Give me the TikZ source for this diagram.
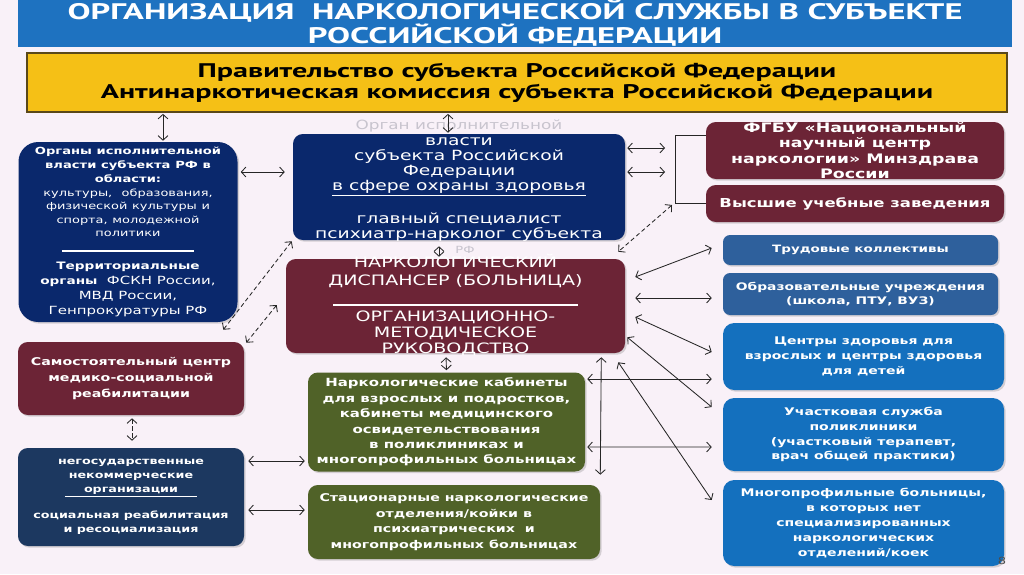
\documentclass[tikz,border=0pt]{standalone}
\usepackage{fontspec}
\setmainfont{DejaVu Sans}[FakeStretch=1.33]
\newfontfamily\titlefont{PT Sans}[FakeStretch=1.53]
\usepackage{tikz}
\usetikzlibrary{arrows,arrows.meta,calc,shadows}

\definecolor{pagebg}{RGB}{249,241,248}
\definecolor{titleblue}{RGB}{30,114,192}
\definecolor{govyellow}{RGB}{245,192,22}
\definecolor{govedge}{RGB}{90,72,25}
\definecolor{navy}{RGB}{10,40,108}
\definecolor{slate}{RGB}{28,56,96}
\definecolor{maroon}{RGB}{108,36,54}
\definecolor{olive}{RGB}{80,98,40}
\definecolor{steel}{RGB}{46,96,156}
\definecolor{brightblue}{RGB}{20,112,190}
\definecolor{ghostgray}{RGB}{200,196,206}

\def\pxl{0.025cm}

\tikzset{
	box/.style={rounded corners=7pt, text=white, align=center, inner sep=0pt,
		drop shadow={opacity=0.3, shadow xshift=1.2pt, shadow yshift=-1.2pt}},
	navybox/.style={box, fill=navy},
	redbox/.style={box, fill=maroon},
	greenbox/.style={box, fill=olive},
	steelbox/.style={box, fill=steel, rounded corners=5pt},
	bluebox/.style={box, fill=brightblue, rounded corners=8pt},
	wtext/.style={text=white, align=center, inner sep=0pt},
	ghost/.style={text=ghostgray, inner sep=0pt, font=\fontsize{9}{10}\selectfont},
	link/.style={<->, line width=0.6pt, draw=black!85},
	dlink/.style={link, densely dashed},
	bracket/.style={line width=0.6pt, draw=black!85}
}

\begin{document}
\begin{tikzpicture}[x=0.025cm, y=-0.025cm, >={Straight Barb[length=3.2pt,width=7pt]}]
	% Background
	\fill [pagebg] (0,0) rectangle (1024,574);
	\useasboundingbox (0,0) rectangle (1024,574);

	% Title, government
	\node [fill=titleblue, text=white, align=center, inner sep=0pt,
		minimum width=994*\pxl, minimum height=47*\pxl,
		font=\titlefont\bfseries\fontsize{16}{15.6}\selectfont] (title) at (515,23.5)
	{ОРГАНИЗАЦИЯ\ \ НАРКОЛОГИЧЕСКОЙ СЛУЖБЫ В СУБЪЕКТЕ\\РОССИЙСКОЙ ФЕДЕРАЦИИ};
	\node [fill=govyellow, draw=govedge, line width=1.2pt, align=center, inner sep=0pt,
		minimum width=980*\pxl, minimum height=59*\pxl,
		font=\titlefont\bfseries\fontsize{14}{15}\selectfont] (gov) at (517,82.5)
	{Правительство субъекта Российской Федерации\\Антинаркотическая комиссия субъекта Российской Федерации};

	% Left column
	\node [navybox, rounded corners=14pt, minimum width=219*\pxl, minimum height=180*\pxl,
		text width=215*\pxl] (organs) at (128,232)
	{\fontsize{7}{10}\selectfont\bfseries Органы исполнительной\\ власти субъекта РФ в\\ области:\par
	\fontsize{6.9}{9.6}\selectfont\mdseries культуры,\ \ образования,\\ физической культуры и\\ спорта, молодежной\\ политики\par
	\vspace{1pt}\rule{3.3cm}{1.2pt}\par\vspace{2pt}
	\fontsize{8}{10.7}\selectfont{\bfseries\fontsize{7.3}{10.7}\selectfont Территориальные\\ органы}\ \ ФСКН России,\\ МВД России,\\ Генпрокуратуры РФ\par};
	\node [redbox, minimum width=226*\pxl, minimum height=73*\pxl,
		font=\bfseries\fontsize{7.6}{11.4}\selectfont] (rehab) at (131,378.5)
	{Самостоятельный центр\\ медико-социальной\\ реабилитации};
	\node [box, fill=slate, minimum width=226*\pxl, minimum height=98*\pxl,
		font=\bfseries\fontsize{6.8}{10}\selectfont] (nko) at (131,497)
	{негосударственные\\ некоммерческие\\ \underline{\makebox[3.3cm]{организации}}\\[8.5pt]
	социальная реабилитация\\ и ресоциализация};

	% Centre column
	\node [navybox, minimum width=332*\pxl, minimum height=106*\pxl] (exec) at (459,187) {};
	\node [wtext, font=\fontsize{10}{10.7}\selectfont] (execT) at ($(exec.center)+(0,2.5)$)
	{власти\\ субъекта Российской\\ Федерации\\ \underline{в сфере охраны здоровья}\\[10.7pt]
	главный специалист\\ психиатр-нарколог субъекта};
	\node [ghost] (execG) at (459,126) {Орган исполнительной};
	\node [ghost, font=\fontsize{7}{8}\selectfont] (execR) at (465,250) {РФ};

	\node [redbox, minimum width=339*\pxl, minimum height=94*\pxl] (disp) at (455.5,306) {};
	\node [wtext, font=\fontsize{10.2}{11.4}\selectfont] (dispT) at ($(disp.center)+(0,-1)$)
	{НАРКОЛОГИЧЕСКИЙ\\[1.5pt] ДИСПАНСЕР (БОЛЬНИЦА)\\[3pt] \rule{6.1cm}{1.2pt}\\
	ОРГАНИЗАЦИОННО-\\ МЕТОДИЧЕСКОЕ\\ РУКОВОДСТВО};

	\node [greenbox, minimum width=277*\pxl, minimum height=99*\pxl,
		font=\bfseries\fontsize{8}{11}\selectfont] (cab) at (446.5,422)
	{Наркологические кабинеты\\ для взрослых и подростков,\\ кабинеты медицинского\\
	освидетельствования\\ в поликлиниках и\\ многопрофильных больницах};
	\node [greenbox, minimum width=292*\pxl, minimum height=74*\pxl,
		font=\bfseries\fontsize{7.6}{11}\selectfont] (stat) at (454,522)
	{Стационарные наркологические\\ отделения/койки в\\ психиатрических\ \ и\\ многопрофильных больницах};

	% Right column
	\node [redbox, minimum width=298*\pxl, minimum height=57*\pxl] (nnc) at (855,150.5) {};
	\node [wtext, font=\bfseries\fontsize{9.3}{10.8}\selectfont] (nncT) at (nnc.center)
	{ФГБУ «Национальный\\ научный центр\\ наркологии» Минздрава\\ России};
	\node [redbox, minimum width=298*\pxl, minimum height=37*\pxl,
		font=\bfseries\fontsize{8.8}{10}\selectfont] (vuz) at (855,203.5)
	{Высшие учебные заведения};
	\node [steelbox, minimum width=275*\pxl, minimum height=30*\pxl,
		font=\bfseries\fontsize{7.2}{10.5}\selectfont] (labor) at (860.5,250)
	{Трудовые коллективы};
	\node [steelbox, minimum width=275*\pxl, minimum height=42*\pxl,
		font=\bfseries\fontsize{7.4}{10.2}\selectfont] (edu) at (860.5,294)
	{Образовательные учреждения\\ (школа, ПТУ, ВУЗ)};
	\node [bluebox, minimum width=281*\pxl, minimum height=67*\pxl,
		font=\bfseries\fontsize{7.5}{10.6}\selectfont] (health) at (863.5,356.5)
	{Центры здоровья для\\ взрослых и центры здоровья\\ для детей};
	\node [bluebox, minimum width=281*\pxl, minimum height=73*\pxl,
		font=\bfseries\fontsize{7.5}{10.6}\selectfont] (district) at (863.5,434.5)
	{Участковая служба\\ поликлиники\\ (участковый терапевт,\\ врач общей практики)};
	\node [bluebox, minimum width=281*\pxl, minimum height=86*\pxl,
		font=\bfseries\fontsize{7.5}{10.6}\selectfont] (multi) at (863.5,523)
	{Многопрофильные больницы,\\ в которых нет\\ специализированных\\ наркологических\\ отделений/коек};

	\node [text=black!70, inner sep=0pt, font=\fontsize{7}{8}\selectfont] (pnum) at (1002,561) {8};

	% Paths: top
	\draw [link] ($(gov.south)+(-354,1)$) -- ($(organs.north)+(35,-1)$);
	\draw [link] ($(gov.south)+(-69,1)$) -- ($(exec.north)+(-11,-1)$);
	\draw [link] ($(organs.east)+(3,-60)$) -- ($(exec.west)+(-8,-15)$);

	% Paths: bracket to the research boxes
	\coordinate (brkT) at (675,135);
	\coordinate (brkB) at (675,203);
	\draw [bracket] ($(nnc.west)+(0,-15.5)$) -- (brkT) -- (brkB) -- ($(vuz.west)+(0,-0.5)$);
	\draw [link] ($(exec.east)+(2,-39)$) -- ($(brkT)+(-10,13)$);
	\draw [link] ($(exec.east)+(2,-15)$) -- ($(brkT)+(-10,37)$);
	\draw [dlink] ($(brkB)+(-3,2)$) -- ($(disp.north east)+(-7,-7)$);

	% Paths: centre column
	\draw [link] ($(exec.south)+(-20,6)$) -- ($(disp.north)+(-16.5,-2)$);
	\draw [link] ($(disp.south)+(-9.5,4)$) -- ($(cab.north)+(0,-2)$);

	% Paths: dispensary to the right column
	\draw [link] ($(disp.east)+(10,-29)$) -- ($(labor.west)+(-11,-2)$);
	\draw [link] ($(disp.east)+(10,-8)$) -- ($(edu.west)+(-11,4)$);
	\draw [link] ($(disp.east)+(10,11)$) -- ($(health.west)+(-11,-4.5)$);
	\draw [link] ($(disp.south east)+(2,-16)$) -- ($(district.west)+(-11,-27.5)$);
	\draw [link] ($(disp.south east)+(-7,9)$) -- ($(multi.west)+(-11,-23)$);
	\draw [link] ($(disp.south east)+(-24,4)$) -- ($(stat.north east)+(0,-10)$);
	\draw [link] ($(cab.east)+(2,-43)$) -- ($(health.west)+(-11,22.5)$);
	\draw [link] ($(cab.east)+(2,25)$) -- ($(district.west)+(-11,12.5)$);

	% Paths: left column
	\draw [dlink] ($(rehab.north east)+(-21,-12)$) -- ($(exec.south west)+(-1,1)$);
	\draw [dlink] ($(rehab.north east)+(2,1)$) -- ($(disp.west)+(-9,-1)$);
	\draw [dlink] ($(rehab.south)+(1,3)$) -- ($(nko.north)+(1,-7)$);
	\draw [link] ($(nko.east)+(4,-36)$) -- ($(cab.west)+(-3,39)$);
	\draw [link] ($(nko.east)+(4,13)$) -- ($(stat.west)+(-3,-12)$);
\end{tikzpicture}
\end{document}
